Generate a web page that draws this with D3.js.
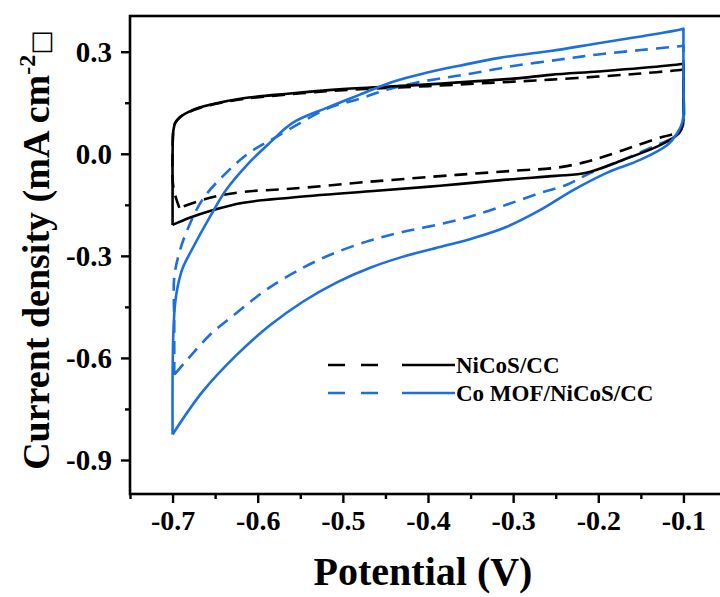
<!DOCTYPE html>
<html><head><meta charset="utf-8">
<script src="https://cdn.jsdelivr.net/npm/d3@7"></script>
<style>body{margin:0;background:#fff}svg{display:block}</style>
</head><body>
<svg id="c" width="720" height="597"></svg>
<script>
// ---- data (potential V, current density mA cm^-2), loops traced anodic then cathodic ----
const nicosSolidV = [-0.700,-0.700,-0.700,-0.699,-0.697,-0.692,-0.676,-0.656,-0.617,-0.562,-0.500,-0.400,-0.300,-0.256,-0.200,-0.150,-0.102,-0.100,-0.100,-0.100,-0.100,-0.101,-0.104,-0.112,-0.131,-0.171,-0.214,-0.250,-0.308,-0.386,-0.468,-0.562,-0.617,-0.656,-0.680,-0.700];
const nicosSolidJ = [-0.209,-0.100, 0.000, 0.070, 0.090, 0.106, 0.129, 0.144, 0.163, 0.177, 0.190, 0.204, 0.221, 0.232, 0.242, 0.252, 0.264, 0.265, 0.255, 0.200, 0.120, 0.085, 0.065, 0.047, 0.021,-0.018,-0.056,-0.065,-0.076,-0.094,-0.110,-0.129,-0.144,-0.168,-0.188,-0.209];

const nicosDashV = [-0.692,-0.699,-0.700,-0.699,-0.697,-0.692,-0.676,-0.656,-0.617,-0.562,-0.500,-0.400,-0.300,-0.256,-0.200,-0.150,-0.102,-0.100,-0.100,-0.100,-0.101,-0.106,-0.124,-0.159,-0.194,-0.218,-0.249,-0.300,-0.366,-0.468,-0.562,-0.617,-0.656,-0.692];
const nicosDashJ = [-0.159,-0.100, 0.000, 0.070, 0.090, 0.106, 0.128, 0.143, 0.161, 0.175, 0.187, 0.199, 0.212, 0.218, 0.227, 0.236, 0.247, 0.248, 0.238, 0.150, 0.085, 0.064, 0.050, 0.021,-0.009,-0.026,-0.041,-0.050,-0.062,-0.082,-0.103,-0.112,-0.129,-0.159];

const mofSolidV = [-0.700,-0.700,-0.699,-0.697,-0.694,-0.688,-0.678,-0.656,-0.637,-0.610,-0.586,-0.559,-0.519,-0.480,-0.441,-0.402,-0.363,-0.316,-0.256,-0.200,-0.150,-0.102,-0.100,-0.100,-0.100,-0.100,-0.101,-0.107,-0.119,-0.151,-0.190,-0.229,-0.268,-0.308,-0.347,-0.386,-0.430,-0.468,-0.507,-0.547,-0.586,-0.625,-0.665,-0.700];
const mofSolidJ = [-0.825,-0.660,-0.520,-0.440,-0.390,-0.335,-0.285,-0.185,-0.106,-0.026, 0.032, 0.091, 0.135, 0.174, 0.212, 0.238, 0.259, 0.282, 0.302, 0.325, 0.345, 0.366, 0.368, 0.358, 0.250, 0.120, 0.095, 0.062, 0.026,-0.018,-0.056,-0.106,-0.165,-0.215,-0.248,-0.274,-0.303,-0.335,-0.378,-0.435,-0.505,-0.592,-0.700,-0.825];

const mofDashV = [-0.698,-0.698,-0.698,-0.692,-0.684,-0.665,-0.637,-0.610,-0.578,-0.516,-0.480,-0.449,-0.414,-0.379,-0.344,-0.300,-0.245,-0.200,-0.150,-0.102,-0.100,-0.100,-0.100,-0.101,-0.110,-0.131,-0.171,-0.209,-0.237,-0.268,-0.308,-0.347,-0.386,-0.430,-0.468,-0.510,-0.547,-0.589,-0.625,-0.656,-0.682,-0.698];
const mofDashJ = [-0.650,-0.500,-0.362,-0.290,-0.232,-0.135,-0.056, 0.003, 0.050, 0.135, 0.162, 0.188, 0.209, 0.224, 0.238, 0.258, 0.277, 0.292, 0.305, 0.317, 0.318, 0.308, 0.200, 0.080, 0.050, 0.026,-0.018,-0.056,-0.091,-0.115,-0.150,-0.182,-0.207,-0.230,-0.255,-0.292,-0.335,-0.398,-0.468,-0.532,-0.603,-0.650];

const xTicks = [-0.7,-0.6,-0.5,-0.4,-0.3,-0.2,-0.1];
const xMinor = [-0.75,-0.65,-0.55,-0.45,-0.35,-0.25,-0.15];
const yTicks = [0.3,0.0,-0.3,-0.6,-0.9];
const yMinor = [0.15,-0.15,-0.45,-0.75];
const legendLabels = ["NiCoS/CC","Co MOF/NiCoS/CC"];

// ---- drawing ----
const svg = d3.select("#c");
const black = "#000", blue = "#1c6fdc";
const serif = "'Liberation Serif','Times New Roman',serif";
const x = d3.scaleLinear().domain([-0.75,-0.05]).range([130,726]);
const y = d3.scaleLinear().domain([-1.0,0.405]).range([494,16]);

const series = [
  {v:nicosDashV, j:nicosDashJ, c:black, dash:"13,8"},
  {v:mofDashV, j:mofDashJ, c:blue, dash:"13,8"},
  {v:nicosSolidV, j:nicosSolidJ, c:black, dash:null},
  {v:mofSolidV, j:mofSolidJ, c:blue, dash:null},
];
const line = d3.line().x(d=>x(d[0])).y(d=>y(d[1])).curve(d3.curveCatmullRom.alpha(0.5));
series.forEach(s=>{
  const pts = s.v.map((v,i)=>[v,s.j[i]]);
  svg.append("path").attr("d",line(pts)).attr("fill","none")
    .attr("stroke",s.c).attr("stroke-width",2.6)
    .attr("stroke-linejoin","round").attr("stroke-linecap","butt")
    .attr("stroke-dasharray",s.dash);
});

// frame
svg.append("rect").attr("x",x(-0.75)).attr("y",y(0.405)).attr("width",x(-0.05)-x(-0.75)).attr("height",y(-1.0)-y(0.405))
  .attr("fill","none").attr("stroke","#000").attr("stroke-width",2.6);

// x axis
const fmt = d=>d3.format(".1f")(d).replace("−","-");
const gx = svg.append("g").attr("transform",`translate(0,${y(-1.0)})`)
  .call(d3.axisBottom(x).tickValues(xTicks).tickSize(9).tickPadding(7).tickFormat(fmt));
gx.select(".domain").remove();
gx.selectAll(".tick line").attr("stroke-width",2.4);
gx.selectAll("text").attr("font-family",serif).attr("font-weight","bold").attr("font-size",28).attr("fill","#000");
const gxm = svg.append("g").attr("transform",`translate(0,${y(-1.0)})`).call(d3.axisBottom(x).tickValues(xMinor).tickSize(5).tickFormat(""));
gxm.select(".domain").remove(); gxm.selectAll(".tick line").attr("stroke-width",2.4);

// y axis
const gy = svg.append("g").attr("transform",`translate(${x(-0.75)},0)`)
  .call(d3.axisLeft(y).tickValues(yTicks).tickSize(9).tickPadding(9).tickFormat(fmt));
gy.select(".domain").remove();
gy.selectAll(".tick line").attr("stroke-width",2.4);
gy.selectAll("text").attr("font-family",serif).attr("font-weight","bold").attr("font-size",29).attr("fill","#000");
const gym = svg.append("g").attr("transform",`translate(${x(-0.75)},0)`).call(d3.axisLeft(y).tickValues(yMinor).tickSize(5).tickFormat(""));
gym.select(".domain").remove(); gym.selectAll(".tick line").attr("stroke-width",2.4);

// axis titles
svg.append("text").attr("x",423).attr("y",585).attr("text-anchor","middle")
  .attr("font-family",serif).attr("font-weight","bold").attr("font-size",40).text("Potential (V)");
const yt = svg.append("text").attr("transform","translate(49,250) rotate(-90)").attr("text-anchor","middle")
  .attr("font-family",serif).attr("font-weight","bold").attr("font-size",38);
yt.append("tspan").text("Current density (mA cm");
yt.append("tspan").attr("dy",-14).attr("font-size",24).text("-2");
yt.append("tspan").attr("dy",14).attr("font-weight","normal").attr("font-family","'DejaVu Sans',sans-serif").attr("font-size",26).text("□");

// legend
const lg = svg.append("g");
[black,blue].forEach((c,i)=>{
  const yy = 365 + i*28;
  lg.append("line").attr("x1",328).attr("x2",378).attr("y1",yy).attr("y2",yy)
    .attr("stroke",c).attr("stroke-width",2.6).attr("stroke-dasharray","17,16");
  lg.append("line").attr("x1",402).attr("x2",455).attr("y1",yy).attr("y2",yy)
    .attr("stroke",c).attr("stroke-width",2.6);
  lg.append("text").attr("x",456).attr("y",yy+8).attr("font-family",serif).attr("font-weight","bold")
    .attr("font-size",23).text(legendLabels[i]);
});
</script>
</body></html>
